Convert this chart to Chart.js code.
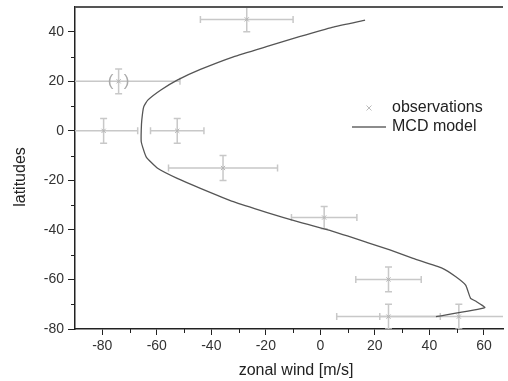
<!DOCTYPE html>
<html>
<head>
<meta charset="utf-8">
<script src="https://cdn.jsdelivr.net/npm/chart.js@4/dist/chart.umd.min.js"></script>
<style>
  html, body { margin: 0; padding: 0; background: #fff; }
  #wrap { width: 508px; height: 381px; }
</style>
</head>
<body>
<div id="wrap"><canvas id="windChart"></canvas></div>
<script>
// observations: zonal wind (m/s) vs latitude, with error bars
const obsWind    = [-27, -74, -79.5, -52.5, -35.7, 1.4, 25, 25, 50.8];
const obsLat     = [45, 20, 0, 0, -15, -35, -60, -75, -75];
const obsWindErr = [17, 22.5, 12.5, 9.8, 20, 12, 12, 19, 29];
const obsLatErr  = [5, 5, 5, 5, 5, 4.5, 5, 5, 5];

// MCD model profile, traced top to bottom
const modelWind = [16.4, 4.3, -7.7, -19.8, -31.9, -44, -52.5, -58.5, -63.3, -64.8, -65.5, -65.7,
                   -65.7, -63.9, -59.7, -52.5, -44, -31.9, -19.8, -7.7, 4.3, 17, 25.5, 34,
                   44.8, 49.7, 53.3, 55.1, 56.9, 60.3, 42.4];
const modelLat  = [44.7, 41.8, 38, 34, 29.9, 24.8, 20.5, 16.5, 12.4, 9.7, 4.4, 0.3,
                   -4.4, -10.5, -15.1, -19.2, -23.2, -28.6, -32.9, -36.9, -40.5, -45, -48.1, -51.5,
                   -55.5, -58.9, -62.3, -67.6, -68.7, -71.4, -75];

// tick labels
const xTicks = [-80, -60, -40, -20, 0, 20, 40, 60];
const yTicks = [-80, -60, -40, -20, 0, 20, 40];
const xMinor = [-70, -50, -30, -10, 10, 30, 50];
const yMinor = [-70, -50, -30, -10, 10, 30];

Chart.defaults.font.family = '"Liberation Sans", Arial, sans-serif';

const extras = {
    id: 'extras',
    beforeDatasetsDraw(chart) {
        const { ctx, chartArea: a, scales: { x, y } } = chart;
        ctx.save();
        ctx.beginPath();
        ctx.rect(a.left, a.top, a.right - a.left, a.bottom - a.top);
        ctx.clip();
        ctx.strokeStyle = '#c8c8c8';
        ctx.lineWidth = 1.5;
        const cap = 3.5;
        obsWind.forEach(function(w, i) {
            const px = x.getPixelForValue(w);
            const py = y.getPixelForValue(obsLat[i]);
            const xl = x.getPixelForValue(w - obsWindErr[i]);
            const xr = x.getPixelForValue(w + obsWindErr[i]);
            const yt = y.getPixelForValue(obsLat[i] + obsLatErr[i]);
            const yb = y.getPixelForValue(obsLat[i] - obsLatErr[i]);
            ctx.beginPath();
            ctx.moveTo(xl, py); ctx.lineTo(xr, py);
            ctx.moveTo(xl, py - cap); ctx.lineTo(xl, py + cap);
            ctx.moveTo(xr, py - cap); ctx.lineTo(xr, py + cap);
            ctx.moveTo(px, yt); ctx.lineTo(px, yb);
            ctx.moveTo(px - cap, yt); ctx.lineTo(px + cap, yt);
            ctx.moveTo(px - cap, yb); ctx.lineTo(px + cap, yb);
            ctx.stroke();
        });
        // brackets round the doubtful point
        const bx = x.getPixelForValue(obsWind[1]);
        const by = y.getPixelForValue(obsLat[1]);
        ctx.fillStyle = '#aaa';
        ctx.font = '17px "Liberation Sans", Arial, sans-serif';
        ctx.textBaseline = 'middle';
        ctx.textAlign = 'center';
        ctx.fillText('(', bx - 8, by);
        ctx.fillText(')', bx + 8, by);
        ctx.restore();
    },
    afterDraw(chart) {
        const { ctx, chartArea: a, scales: { x, y } } = chart;
        ctx.save();
        // top frame
        ctx.strokeStyle = '#555';
        ctx.lineWidth = 2;
        ctx.beginPath();
        ctx.moveTo(a.left, a.top); ctx.lineTo(a.right, a.top);
        ctx.stroke();
        // minor ticks
        ctx.strokeStyle = '#222';
        ctx.lineWidth = 1;
        ctx.beginPath();
        xMinor.forEach(function(v) {
            const px = Math.round(x.getPixelForValue(v)) + 0.5;
            ctx.moveTo(px, a.bottom); ctx.lineTo(px, a.bottom + 4);
        });
        yMinor.forEach(function(v) {
            const py = Math.round(y.getPixelForValue(v)) + 0.5;
            ctx.moveTo(a.left, py); ctx.lineTo(a.left - 4, py);
        });
        ctx.stroke();

        // axis titles
        ctx.fillStyle = '#222';
        ctx.font = '16px "Liberation Sans", Arial, sans-serif';
        ctx.textAlign = 'center';
        ctx.textBaseline = 'middle';
        ctx.fillText('zonal wind [m/s]', 296, 371);
        ctx.save();
        ctx.translate(21, 177);
        ctx.rotate(-Math.PI / 2);
        ctx.fillText('latitudes', 0, 0);
        ctx.restore();

        // legend
        ctx.textAlign = 'left';
        ctx.fillText('observations', 392, 108);
        ctx.fillText('MCD model', 392, 127);
        ctx.strokeStyle = '#bbb';
        ctx.lineWidth = 1;
        ctx.beginPath();
        ctx.moveTo(366.5, 105.5); ctx.lineTo(371.5, 110.5);
        ctx.moveTo(371.5, 105.5); ctx.lineTo(366.5, 110.5);
        ctx.stroke();
        ctx.strokeStyle = '#666';
        ctx.lineWidth = 1.5;
        ctx.beginPath();
        ctx.moveTo(352, 127); ctx.lineTo(386, 127);
        ctx.stroke();
        ctx.restore();
    }
};

const ctx = document.getElementById('windChart').getContext('2d');
const windChart = new Chart(ctx, {
    type: 'scatter',
    data: {
        datasets: [{
            label: 'observations',
            data: obsWind.map((w, i) => ({ x: w, y: obsLat[i] })),
            pointStyle: 'crossRot',
            pointRadius: 3,
            borderColor: '#b5b5b5',
            borderWidth: 1,
            order: 2
        }, {
            label: 'MCD model',
            data: modelWind.map((w, i) => ({ x: w, y: modelLat[i] })),
            showLine: true,
            pointRadius: 0,
            borderColor: '#555',
            borderWidth: 1.3,
            tension: 0.15,
            order: 1
        }]
    },
    options: {
        responsive: true,
        maintainAspectRatio: false,
        animation: false,
        layout: { padding: { top: 7, right: 0, left: 0, bottom: 0 } },
        plugins: {
            legend: { display: false },
            tooltip: { enabled: false }
        },
        scales: {
            x: {
                type: 'linear',
                min: -90,
                max: 67,
                afterBuildTicks: function(scale) {
                    scale.ticks = xTicks.map(v => ({ value: v }));
                },
                afterFit: function(scale) {
                    scale.height = 52;
                    scale.paddingLeft = 0;
                    scale.paddingRight = 0;
                },
                ticks: { color: '#333', font: { size: 14 }, padding: 3, maxRotation: 0 },
                grid: { drawOnChartArea: false, tickLength: 6, tickColor: '#222' },
                border: { color: '#222', width: 1.5 }
            },
            y: {
                type: 'linear',
                min: -80,
                max: 50,
                afterBuildTicks: function(scale) {
                    scale.ticks = yTicks.map(v => ({ value: v }));
                },
                afterFit: function(scale) {
                    scale.width = 75;
                    scale.paddingTop = 0;
                    scale.paddingBottom = 0;
                },
                ticks: { color: '#333', font: { size: 14 }, padding: 4 },
                grid: { drawOnChartArea: false, tickLength: 7, tickColor: '#222' },
                border: { color: '#222', width: 1.5 }
            }
        }
    },
    plugins: [extras]
});
</script>
</body>
</html>
